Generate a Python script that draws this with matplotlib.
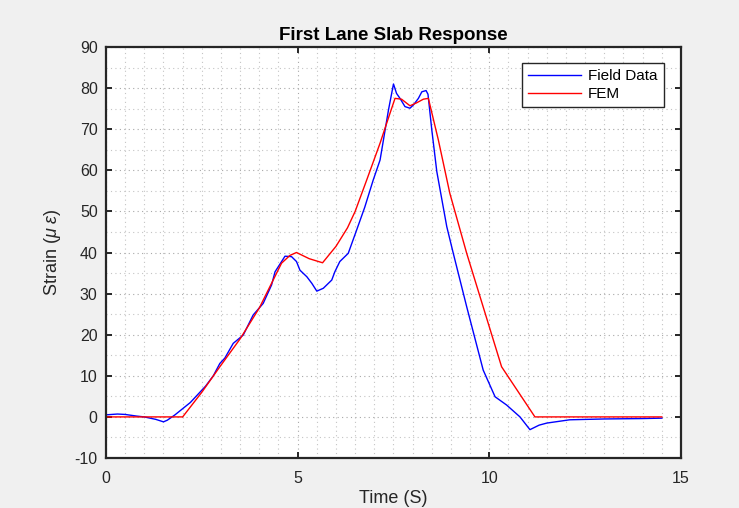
#!/usr/bin/env python3
# first lane slab response - field data vs FEM
import matplotlib
matplotlib.use('Agg')
from matplotlib import pyplot as plt
from matplotlib.ticker import MultipleLocator

plt.rcParams['font.family'] = ['Liberation Sans', 'DejaVu Sans']
plt.rcParams['axes.unicode_minus'] = False
plt.rcParams['mathtext.fontset'] = 'custom'
plt.rcParams['mathtext.it'] = 'Liberation Sans:italic'
plt.rcParams['mathtext.rm'] = 'Liberation Sans'

# field data (time in s, strain in micro-strain)
field_t = [0.0, 0.3, 0.5, 0.8, 1.0, 1.3, 1.5, 1.6, 1.8, 2.0, 2.2, 2.4, 2.6, 2.8,
           2.97, 3.1, 3.32, 3.58, 3.84, 4.10, 4.32, 4.41, 4.67, 4.84, 4.97, 5.06,
           5.24, 5.37, 5.50, 5.67, 5.89, 5.97, 6.10, 6.32, 6.54, 6.75, 6.97, 7.15,
           7.37, 7.50, 7.58, 7.67, 7.80, 7.93, 8.02, 8.15, 8.24, 8.35, 8.40, 8.50,
           8.63, 8.89, 9.06, 9.41, 9.84, 10.15, 10.45, 10.8, 11.06, 11.3, 11.5,
           12.1, 13.0, 14.0, 14.5]
field_y = [0.5, 0.7, 0.6, 0.2, 0.0, -0.6, -1.2, -0.8, 0.5, 2.0, 3.5, 5.5, 7.5, 10.0,
           13.0, 14.3, 17.9, 19.9, 24.8, 27.6, 32.1, 35.3, 39.1, 39.0, 37.8, 35.7,
           34.1, 32.5, 30.6, 31.3, 33.3, 35.3, 37.8, 39.8, 45.5, 51.0, 57.6, 62.5,
           74.7, 81.0, 78.7, 77.5, 75.5, 75.1, 75.9, 77.5, 79.1, 79.4, 78.5, 69.8,
           59.7, 46.3, 39.8, 26.8, 11.4, 4.9, 2.9, 0.0, -3.1, -2.0, -1.5,
           -0.7, -0.5, -0.4, -0.3]

# FEM results
fem_t = [0.0, 2.0, 2.5, 2.97, 3.5, 4.0, 4.58, 4.8, 4.97, 5.3, 5.65, 6.0, 6.3, 6.5,
         6.8, 7.15, 7.41, 7.54, 7.71, 7.93, 8.10, 8.28, 8.41, 8.67, 8.97, 9.41,
         10.32, 11.19, 14.5]
fem_y = [0.0, 0.0, 6.0, 12.2, 19.0, 26.5, 37.4, 39.3, 40.0, 38.5, 37.5, 41.5, 46.0, 50.0,
         57.6, 66.6, 73.9, 77.5, 77.3, 75.7, 76.4, 77.3, 77.5, 67.4, 54.4, 39.8,
         12.2, 0.0, 0.0]

fig = plt.figure(figsize=(7.39, 5.08), dpi=100, facecolor='#f0f0f0')
ax = fig.add_axes([0.1434, 0.0984, 0.7781, 0.8091])
ax.set_facecolor('white')

ax.plot(field_t, field_y, color='#0000ff', lw=1.0, label='Field Data')
ax.plot(fem_t, fem_y, color='#ff0000', lw=1.0, label='FEM')

ax.set_xlim(0, 15)
ax.set_ylim(-10, 90)
ax.xaxis.set_major_locator(MultipleLocator(5))
ax.xaxis.set_minor_locator(MultipleLocator(0.5))
ax.yaxis.set_major_locator(MultipleLocator(10))
ax.yaxis.set_minor_locator(MultipleLocator(5))
ax.grid(which='major', ls=(0, (1, 3)), color='#a8a8a8', lw=0.8)
ax.grid(which='minor', ls=(0, (1, 3)), color='#c4c4c4', lw=0.8)
ax.tick_params(which='major', direction='in', length=4, width=1.4, top=True, right=True,
               labelsize=11.5, colors='#262626')
ax.tick_params(axis='y', pad=6)
ax.tick_params(axis='x', pad=9)
ax.tick_params(which='minor', length=0)
for s in ax.spines.values():
    s.set_linewidth(1.6)
    s.set_color('#262626')

ax.set_title('First Lane Slab Response', fontsize=13.5, fontweight='bold', pad=5)
ax.set_xlabel('Time (S)', fontsize=13, color='#262626', labelpad=3)
ax.set_ylabel(r'Strain ($\mu\ \epsilon$)', fontsize=13, color='#262626', labelpad=8)

leg = ax.legend(loc='upper right', bbox_to_anchor=(0.970, 0.961), borderaxespad=0,
                fontsize=11, fancybox=False, framealpha=1, borderpad=0.4,
                handlelength=3.5, handletextpad=0.45, labelspacing=0.25)
leg.get_frame().set_edgecolor('#262626')
leg.get_frame().set_linewidth(1.0)

plt.savefig('out.png', dpi=100, facecolor=fig.get_facecolor())
